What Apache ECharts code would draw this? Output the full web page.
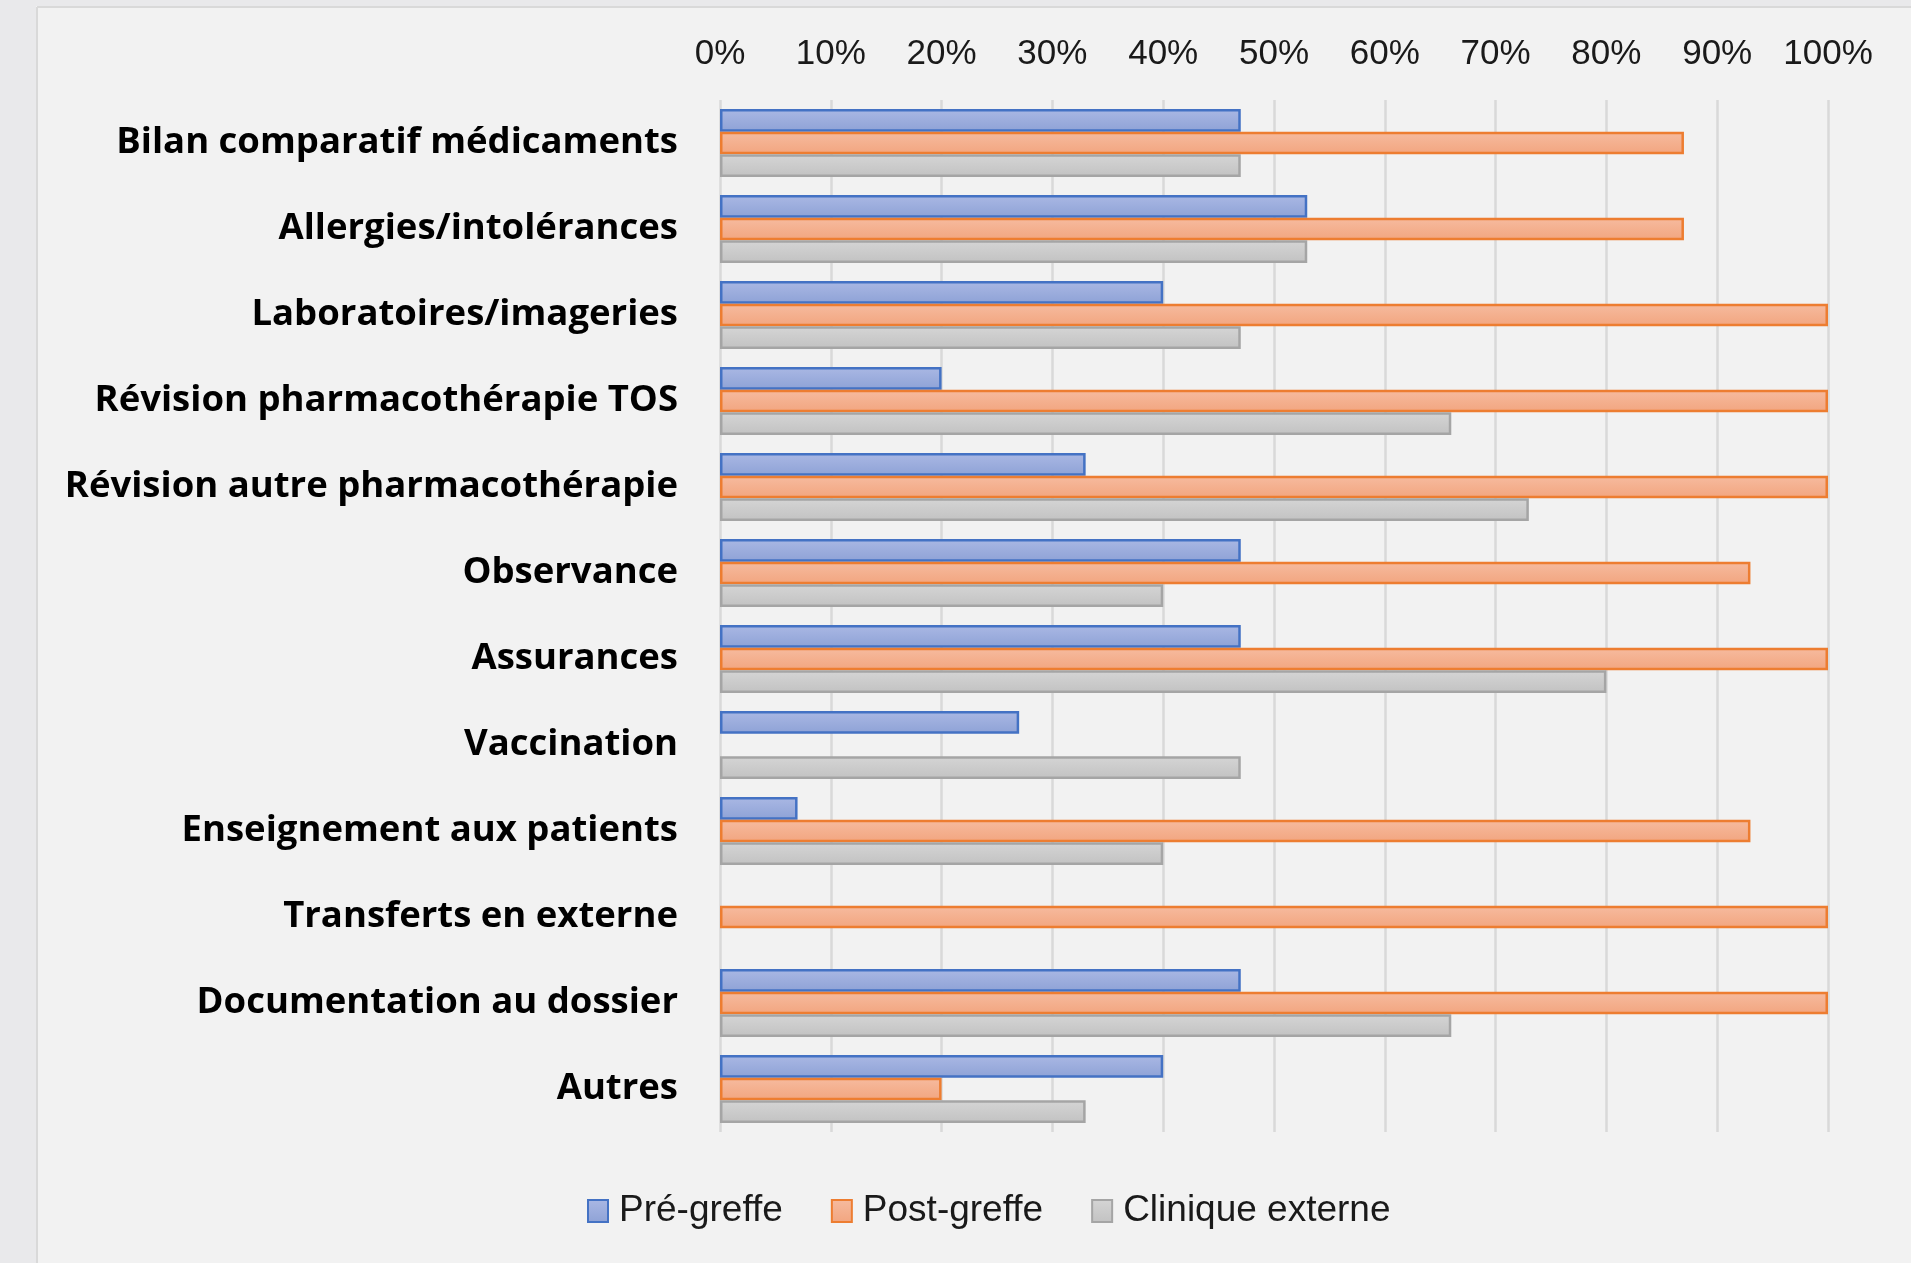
<!DOCTYPE html>
<html>
<head>
<meta charset="utf-8">
<script src="https://cdn.jsdelivr.net/npm/echarts@6/dist/echarts.min.js"></script>
<style>
html,body{margin:0;padding:0;background:#f2f2f2;}
#chart{width:1911px;height:1263px;}
</style>
</head>
<body>
<div id="chart"></div>
<script>
const categories = [
  "Bilan comparatif médicaments",
  "Allergies/intolérances",
  "Laboratoires/imageries",
  "Révision pharmacothérapie TOS",
  "Révision autre pharmacothérapie",
  "Observance",
  "Assurances",
  "Vaccination",
  "Enseignement aux patients",
  "Transferts en externe",
  "Documentation au dossier",
  "Autres"
];
const seriesNames = ["Pré-greffe", "Post-greffe", "Clinique externe"];
const preGreffe       = [47, 53, 40, 20, 33, 47, 47, 27, 7, null, 47, 40];
const postGreffe      = [87, 87, 100, 100, 100, 93, 100, null, 93, 100, 100, 20];
const cliniqueExterne = [47, 53, 47, 66, 73, 40, 80, 47, 40, null, 66, 33];
const xTicks = [0, 10, 20, 30, 40, 50, 60, 70, 80, 90, 100];

function grad(top, bottom) {
  return new echarts.graphic.LinearGradient(0, 0, 0, 1, [
    {offset: 0, color: top}, {offset: 1, color: bottom}
  ]);
}
const styles = [
  {fill: grad('#aab8e4', '#8ea2d6'), border: '#4472c4'},
  {fill: grad('#f6bb9f', '#f2a57f'), border: '#ed7d31'},
  {fill: grad('#d5d5d5', '#c2c2c2'), border: '#a5a5a5'}
];
const dataSets = [preGreffe, postGreffe, cliniqueExterne];

const chart = echarts.init(document.getElementById('chart'), null, {renderer: 'canvas'});
chart.setOption({
  backgroundColor: '#f2f2f2',
  animation: false,
  graphic: [
    {type: 'rect', shape: {x: 0, y: 0, width: 36, height: 1263}, style: {fill: '#e9e9eb'}, silent: true},
    {type: 'rect', shape: {x: 0, y: 0, width: 1911, height: 6}, style: {fill: '#e9e9eb'}, silent: true},
    {type: 'line', shape: {x1: 37, y1: 7, x2: 37, y2: 1263}, style: {stroke: '#d9d9d9', lineWidth: 2}, silent: true},
    {type: 'line', shape: {x1: 37, y1: 7, x2: 1911, y2: 7}, style: {stroke: '#d9d9d9', lineWidth: 2}, silent: true}
  ],
  grid: {left: 720, right: 83, top: 100, bottom: 131, containLabel: false},
  legend: {
    data: seriesNames.map(n => ({name: n, icon: 'rect'})),
    left: 582,
    top: 1185,
    itemWidth: 20,
    itemHeight: 22,
    itemGap: 48,
    textStyle: {fontFamily: 'Liberation Sans', fontSize: 37, color: '#1a1a1a', padding: [0, 0, 0, 6], lineHeight: 42}
  },
  xAxis: {
    type: 'value',
    position: 'top',
    min: 0,
    max: 100,
    interval: 10,
    axisLine: {show: false},
    axisTick: {show: false},
    axisLabel: {
      formatter: v => v + '%',
      fontFamily: 'Liberation Sans',
      fontSize: 35,
      color: '#1a1a1a',
      margin: 28
    },
    splitLine: {show: true, lineStyle: {color: '#d9d9d9', width: 2.5}}
  },
  yAxis: {
    type: 'category',
    data: categories,
    inverse: true,
    axisLine: {show: false},
    axisTick: {show: false},
    axisLabel: {
      fontFamily: 'Open Sans',
      fontWeight: 'bold',
      fontSize: 36.5,
      color: '#000',
      margin: 42
    }
  },
  series: dataSets.map((d, i) => ({
    name: seriesNames[i],
    type: 'bar',
    data: d,
    barGap: '0%',
    barCategoryGap: '21%',
    itemStyle: {color: styles[i].fill, borderColor: styles[i].border, borderWidth: 2.5}
  }))
});
</script>
</body>
</html>
